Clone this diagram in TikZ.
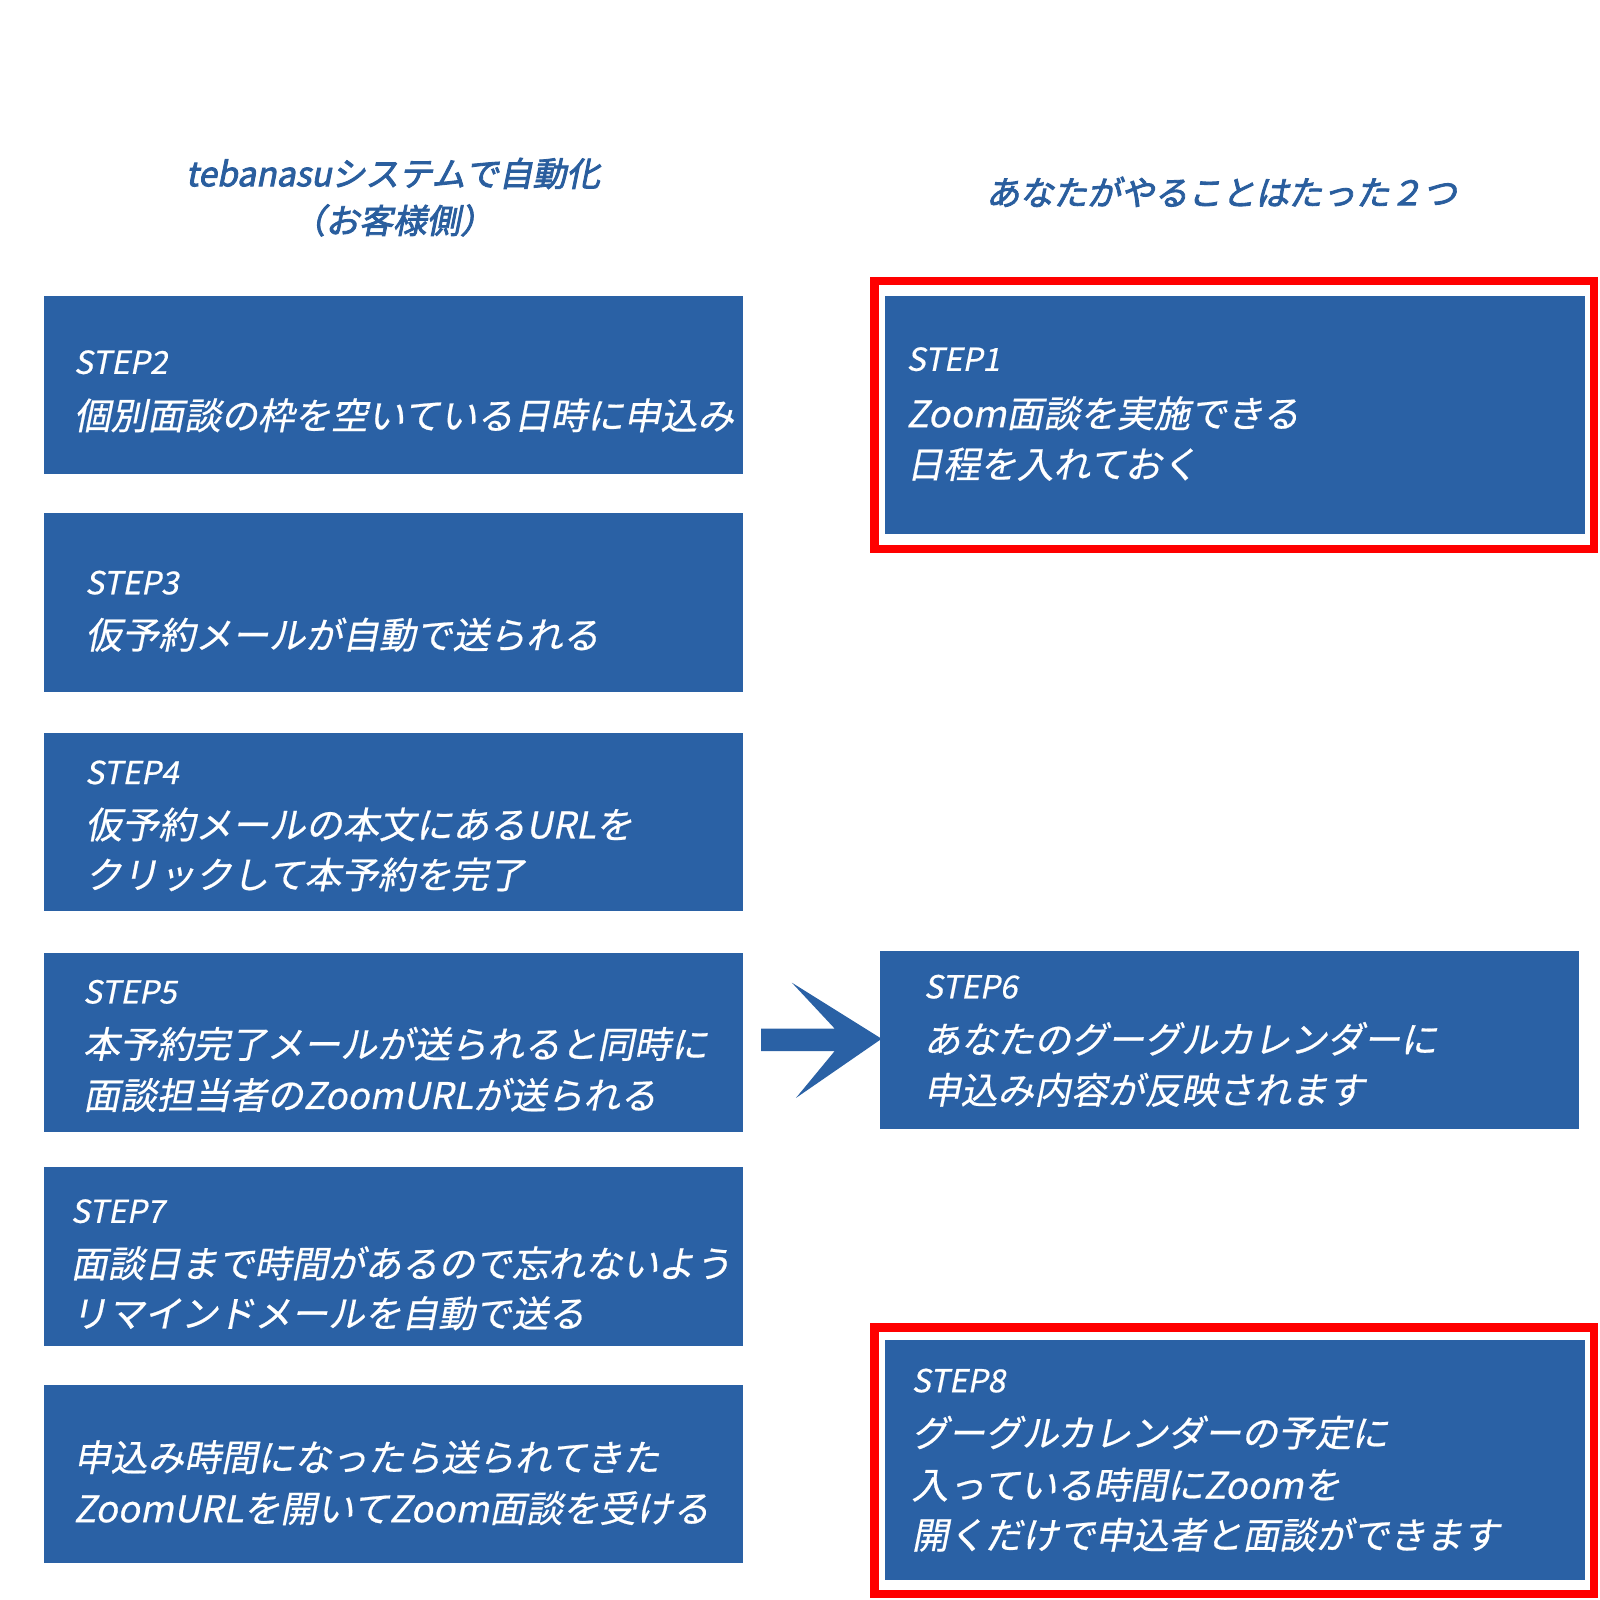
\documentclass[tikz,border=0pt]{standalone}
\usepackage{fontspec}
\setmainfont{Noto Sans CJK JP}[FakeSlant=0.2,FakeBold=0.6]
\newfontfamily\hfont{Noto Sans CJK JP}[FakeSlant=0.2,FakeBold=2.5]
\definecolor{bx}{HTML}{2A61A5}
\definecolor{hd}{HTML}{2A5E9E}
\tikzset{box/.style={fill=bx,draw=none},
 redbox/.style={draw=red,line width=4pt},
 st/.style={anchor=west,inner sep=0,text=white,font=\fontsize{15.5}{15.5}\selectfont},
 tx/.style={anchor=west,inner sep=0,text=white,font=\fontsize{18}{18}\selectfont},
 hdr/.style={inner sep=0,text=hd,font=\hfont\fontsize{16.5}{16.5}\selectfont}}
\begin{document}
\begin{tikzpicture}[x=0.5pt,y=-0.5pt]
\useasboundingbox (0,0) rectangle (1568,1568);
\node[hdr] (h1) at (385,170) {tebanasuシステムで自動化};
\node[hdr] (h2) at (385,216) {（お客様側）};
\node[hdr] (h3) at (1197,188) {あなたがやることはたった２つ};
% left boxes
\fill[box] (43,290) rectangle (728,465);
\fill[box] (43,503) rectangle (728,678);
\fill[box] (43,718) rectangle (728,893);
\fill[box] (43,934) rectangle (728,1109);
\fill[box] (43,1144) rectangle (728,1319);
\fill[box] (43,1357) rectangle (728,1532);
% right
\draw[redbox] (857,275) rectangle (1562,538);
\fill[box] (867,290) rectangle (1553,523);
\fill[box] (862,932) rectangle (1547,1106);
\draw[redbox] (857,1301) rectangle (1562,1562);
\fill[box] (867,1313) rectangle (1553,1548);
% arrow
\fill[bx] (746,1008) -- (818,1008) -- (776,963) -- (864,1018) -- (780,1076) -- (818,1030) -- (746,1030) -- cycle;
\node[st] (s2) at (72,355) {STEP2};
\node[tx] (t2) at (72,407) {個別面談の枠を空いている日時に申込み};
\node[st] (s3) at (83,571) {STEP3};
\node[tx] (t3) at (83,622) {仮予約メールが自動で送られる};
\node[st] (s4) at (83,757) {STEP4};
\node[tx] (t4a) at (83,808) {仮予約メールの本文にあるURLを};
\node[tx] (t4b) at (83,857) {クリックして本予約を完了};
\node[st] (s5) at (81,972) {STEP5};
\node[tx] (t5a) at (81,1023) {本予約完了メールが送られると同時に};
\node[tx] (t5b) at (81,1073) {面談担当者のZoomURLが送られる};
\node[st] (s7) at (69,1187) {STEP7};
\node[tx] (t7a) at (69,1238) {面談日まで時間があるので忘れないよう};
\node[tx] (t7b) at (69,1287) {リマインドメールを自動で送る};
\node[tx] (t9a) at (72,1428) {申込み時間になったら送られてきた};
\node[tx] (t9b) at (72,1478) {ZoomURLを開いてZoom面談を受ける};
\node[st] (s1) at (888,352) {STEP1};
\node[tx] (t1a) at (888,405) {Zoom面談を実施できる};
\node[tx] (t1b) at (888,455) {日程を入れておく};
\node[st] (s6) at (905,967) {STEP6};
\node[tx] (t6a) at (905,1018) {あなたのグーグルカレンダーに};
\node[tx] (t6b) at (905,1068) {申込み内容が反映されます};
\node[st] (s8) at (893,1353) {STEP8};
\node[tx] (t8a) at (893,1404) {グーグルカレンダーの予定に};
\node[tx] (t8b) at (893,1455) {入っている時間にZoomを};
\node[tx] (t8c) at (893,1504) {開くだけで申込者と面談ができます};
\end{tikzpicture}
\end{document}
